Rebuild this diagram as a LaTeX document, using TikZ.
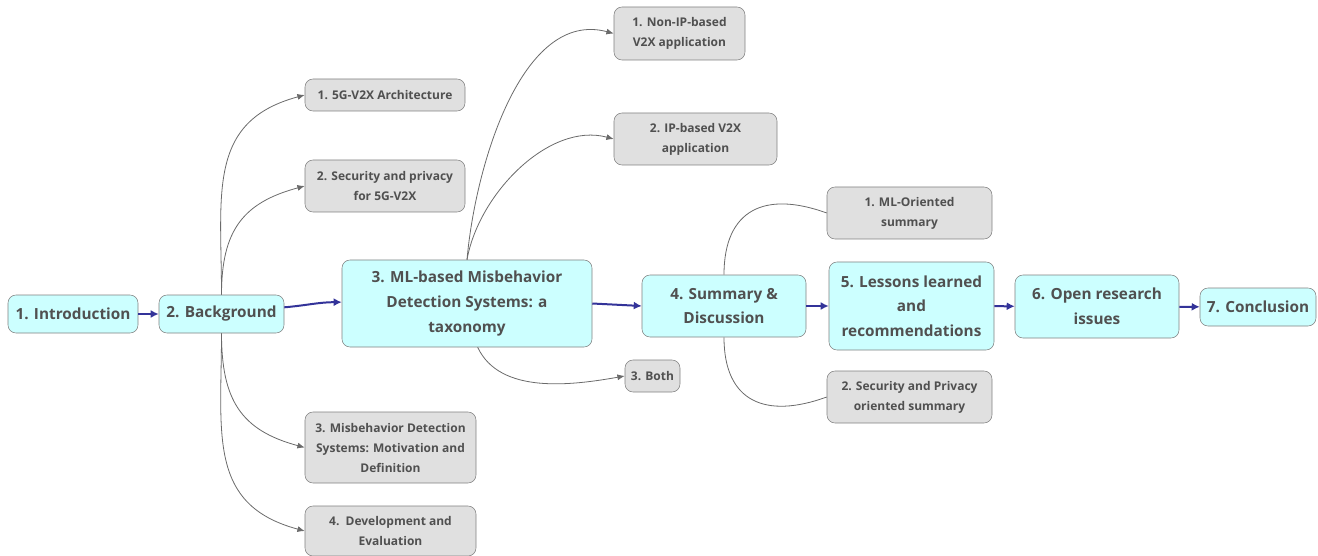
\documentclass[tikz,border=0pt]{standalone}
\usepackage{fontspec}
\setmainfont{Open Sans}
\usetikzlibrary{arrows.meta,positioning}

\definecolor{topicfill}{HTML}{CCFFFF}
\definecolor{subfill}{HTML}{E0E0E0}
\definecolor{boxline}{HTML}{808080}
\definecolor{labeltext}{HTML}{505050}
\definecolor{flowblue}{HTML}{333399}
\definecolor{branchgray}{HTML}{6A6A6A}

\begin{document}
\begin{tikzpicture}[x=0.75pt,y=-0.75pt,
    topic/.style={draw=boxline,fill=topicfill,rounded corners=6pt,inner sep=0pt,align=center,
      text=labeltext,font=\fontsize{11.5}{18.5}\selectfont\bfseries},
    subtopic/.style={draw=boxline,fill=subfill,rounded corners=6pt,inner sep=0pt,align=center,
      text=labeltext,font=\fontsize{9}{15}\selectfont\bfseries},
    flow/.style={draw=flowblue,line width=1.5pt,-{Latex[length=6pt,width=6pt]}},
    branch/.style={draw=branchgray,line width=0.6pt,-{Latex[length=5.5pt,width=4.5pt]}},
    plain branch/.style={draw=branchgray,line width=0.6pt}]
  \useasboundingbox (0,0) rectangle (1318,556);

  % main chapters
  \node[topic,minimum width=97.5pt,minimum height=28.5pt] (intro) at (73,314) {1. Introduction};
  \node[topic,minimum width=93.75pt,minimum height=28.5pt] (backgr) at (221.5,314) {2. Background};
  \node[topic,minimum width=187.5pt,minimum height=65.25pt] (mlmds) at (467,303.5) {3. ML-based Misbehavior\\Detection Systems: a\\taxonomy};
  \node[topic,minimum width=123pt,minimum height=46.5pt] (summ) at (724,306) {4. Summary \&\\Discussion};
  \node[topic,minimum width=123.75pt,minimum height=66pt] (lessons) at (911.5,306) {5. Lessons learned\\and\\recommendations};
  \node[topic,minimum width=123pt,minimum height=47.25pt] (openres) at (1097,306.5) {6. Open research\\issues};
  \node[topic,minimum width=87pt,minimum height=28.5pt] (concl) at (1258,307) {7. Conclusion};

  % background sections
  \node[subtopic,minimum width=120pt,minimum height=24pt] (bgarch) at (385,95) {1. 5G-V2X Architecture};
  \node[subtopic,minimum width=120pt,minimum height=39pt] (bgsec) at (385,186) {2. Security and privacy\\for 5G-V2X};
  \node[subtopic,minimum width=128.25pt,minimum height=53.25pt] (bgmds) at (390.5,447.5) {3. Misbehavior Detection\\Systems: Motivation and\\Definition};
  \node[subtopic,minimum width=128.25pt,minimum height=37.5pt] (bgdev) at (390.5,531) {4.\ \ Development and\\Evaluation};

  % taxonomy sections
  \node[subtopic,minimum width=98.25pt,minimum height=39.75pt] (nonip) at (679.5,33.5) {1. Non-IP-based\\V2X application};
  \node[subtopic,minimum width=122.25pt,minimum height=39pt] (ipbased) at (695.5,139) {2. IP-based V2X\\application};
  \node[subtopic,minimum width=41.25pt,minimum height=24pt] (both) at (652.5,376) {3. Both};

  % summary sections
  \node[subtopic,minimum width=123.75pt,minimum height=39pt] (mlsum) at (909.5,213) {1. ML-Oriented\\summary};
  \node[subtopic,minimum width=123.75pt,minimum height=39pt] (secsum) at (909.5,397) {2. Security and Privacy\\oriented summary};

  % flow
  \draw[flow] (intro) -- (backgr);
  \draw[flow] ([yshift=5pt]backgr.east) to[out=5,in=180] ([yshift=1pt]mlmds.west);
  \draw[flow] (mlmds.east) -- (summ.west);
  \draw[flow] (summ) -- (lessons);
  \draw[flow] (lessons) -- (openres);
  \draw[flow] (openres) -- (concl);

  % branches
  \draw[branch] (backgr.north) to[out=90,in=195,looseness=1.2] (bgarch.west);
  \draw[branch] (backgr.north) to[out=90,in=195,looseness=1.2] (bgsec.west);
  \draw[branch] (backgr.south) to[out=-90,in=165,looseness=1.2] (bgmds.west);
  \draw[branch] (backgr.south) to[out=-90,in=165,looseness=1.2] (bgdev.west);
  \draw[branch] (mlmds.north) to[out=85,in=165,looseness=0.9] (nonip.west);
  \draw[branch] (mlmds.north) to[out=80,in=165,looseness=0.9] (ipbased.west);
  \draw[branch] ([xshift=8pt]mlmds.south) to[out=-65,in=190,looseness=0.9] (both.west);
  \draw[plain branch] (summ.north) to[out=90,in=160,looseness=1.4] (mlsum.west);
  \draw[plain branch] (summ.south) to[out=-90,in=200,looseness=1.4] (secsum.west);
\end{tikzpicture}
\end{document}
